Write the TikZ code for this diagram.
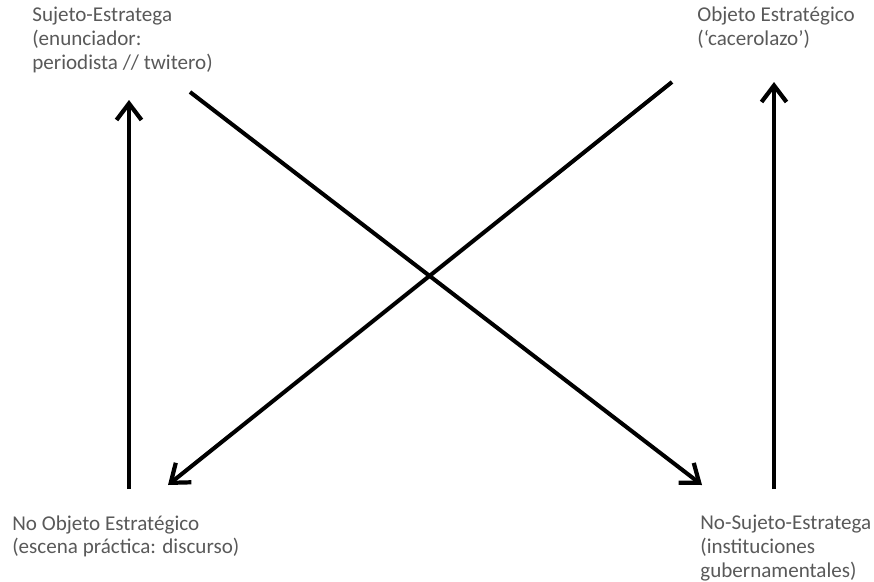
\documentclass[tikz,border=0pt]{standalone}
\usepackage{fontspec}
\setmainfont{Carlito}
\usetikzlibrary{arrows.meta}

\begin{document}
\begin{tikzpicture}[x=0.02cm, y=-0.02cm,
  lbl/.style={anchor=north west, align=left, inner sep=0pt,
              text=black!65, font=\fontsize{12}{13.6}\selectfont},
  flow/.style={-{Straight Barb[length=3.3mm, width=5mm, line width=2.4pt]},
               line width=2.3pt, black}]
  \useasboundingbox (0,0) rectangle (874,581);
  % the four poles of the square
  \node[lbl] (sujeto) at (32,7)
    {Sujeto-Estratega\\(enunciador:\\periodista // twitero)};
  \node[lbl] (objeto) at (697,7)
    {Objeto Estratégico\\(‘cacerolazo’)};
  \node[lbl] (noobjeto) at (12,515)
    {No Objeto Estratégico\\(escena práctica: discurso)};
  \node[lbl] (nosujeto) at (700,515)
    {No-Sujeto-Estratega\\(instituciones\\gubernamentales)};
  % arrow ends
  \coordinate (lfoot) at (129,489);
  \coordinate (lhead) at (129,100);
  \coordinate (rfoot) at (774,489);
  \coordinate (rhead) at (774,82);
  \coordinate (dstart) at (190,92);
  \coordinate (dend) at (702,485);
  \coordinate (cstart) at (672,82);
  \coordinate (cend) at (168,485);
  % verticals up, diagonals across
  \draw[flow] (lfoot) -- (lhead);
  \draw[flow] (rfoot) -- (rhead);
  \draw[flow] (dstart) -- (dend);
  \draw[flow] (cstart) -- (cend);
\end{tikzpicture}
\end{document}
